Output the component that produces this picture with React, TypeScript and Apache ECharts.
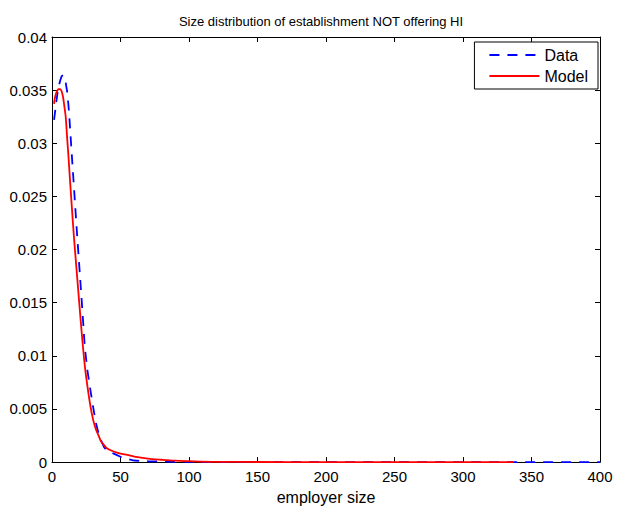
import React, { useEffect, useRef } from "react";
import * as echarts from "echarts";

const titleText = "Size distribution of establishment NOT offering HI";
const xAxisName = "employer size";
const xTickLabels = ["0", "50", "100", "150", "200", "250", "300", "350", "400"];
const yTickLabels = ["0", "0.005", "0.01", "0.015", "0.02", "0.025", "0.03", "0.035", "0.04"];

const dataX = [1.5, 2.5, 3, 4, 5, 6, 7, 8, 9, 10, 11, 12, 13, 14, 16, 18, 20, 22, 24, 26, 28, 30, 32, 34, 36, 38, 40, 45, 50, 55, 60, 70, 80, 90, 100, 120, 150, 200, 250, 300, 350, 400];
const dataY = [0.0322, 0.0332, 0.0338, 0.0347, 0.0354, 0.0359, 0.0363, 0.0364, 0.0362, 0.0357, 0.0349, 0.0336, 0.0318, 0.0298, 0.0259, 0.022, 0.0183, 0.0146, 0.0107, 0.0085, 0.0068, 0.0052, 0.0037, 0.0027, 0.002, 0.0014, 0.0011, 0.0008, 0.0005, 0.0003, 0.00015, 0.00008, 0.00005, 0.00003, 0.00002, 0.00001, 0.000005, 0.000002, 0.000001, 0, 0, 0];

const modelX = [1.5, 2, 3, 4, 5, 6, 7, 8, 9, 10, 11, 12, 13, 14, 16, 18, 20, 22, 24, 26, 28, 30, 32, 34, 36, 38, 40, 45, 50, 55, 60, 70, 80, 90, 100, 120, 150, 200, 250, 300, 337];
const modelY = [0.0337, 0.0342, 0.0347, 0.035, 0.0351, 0.0351, 0.0349, 0.0344, 0.0335, 0.0325, 0.0306, 0.0288, 0.0268, 0.0249, 0.0212, 0.018, 0.0148, 0.0117, 0.009, 0.007, 0.0053, 0.004, 0.0031, 0.0025, 0.0019, 0.0016, 0.0013, 0.001, 0.0008, 0.00068, 0.00052, 0.00033, 0.00022, 0.00013, 0.00009, 0.00003, 0.00001, 0.000003, 0.000001, 0, 0];

const FONT = "Liberation Sans, Arial, Helvetica, sans-serif";

export default function App() {
  const ref = useRef<HTMLDivElement>(null);
  useEffect(() => {
    if (!ref.current) return;
    const chart = echarts.init(ref.current, undefined, { renderer: "svg" });
    const axisCommon = {
      type: "value" as const,
      axisLine: { show: true, onZero: false, lineStyle: { color: "#000", width: 1 } },
      axisTick: { show: true, inside: true, length: 5, lineStyle: { color: "#000" } },
      splitLine: { show: false },
    };
    chart.setOption({
      animation: false,
      backgroundColor: "#fff",
      title: {
        text: titleText,
        left: 316,
        top: 10,
        textAlign: "center",
        textStyle: { fontFamily: FONT, fontSize: 13, fontWeight: "normal", color: "#000" },
      },
      legend: {
        right: 27,
        top: 42,
        orient: "vertical",
        itemWidth: 50,
        itemHeight: 14,
        itemGap: 5,
        padding: [5, 10, 5, 14],
        backgroundColor: "#fff",
        borderColor: "#000",
        borderWidth: 1,
        borderRadius: 0,
        itemStyle: { opacity: 0, borderWidth: 0 },
        textStyle: { fontFamily: FONT, fontSize: 16, color: "#000" },
        data: ["Data", "Model"],
      },
      grid: { left: 52, right: 25, top: 37, bottom: 47, containLabel: false },
      xAxis: [
        {
          ...axisCommon,
          min: 0,
          max: 400,
          interval: 50,
          position: "bottom",
          name: xAxisName,
          nameLocation: "middle",
          nameGap: 22,
          nameTextStyle: { fontFamily: FONT, fontSize: 16, color: "#000" },
          axisLabel: {
            fontFamily: FONT,
            fontSize: 15,
            color: "#000",
            margin: 7,
            formatter: (v: number) => xTickLabels[Math.round(v / 50)] ?? "",
          },
        },
        {
          ...axisCommon,
          min: 0,
          max: 400,
          interval: 50,
          position: "top",
          axisLabel: { show: false },
        },
      ],
      yAxis: [
        {
          ...axisCommon,
          min: 0,
          max: 0.04,
          interval: 0.005,
          position: "left",
          axisLabel: {
            fontFamily: FONT,
            fontSize: 15,
            color: "#000",
            margin: 5,
            formatter: (v: number) => yTickLabels[Math.round(v / 0.005)] ?? "",
          },
        },
        {
          ...axisCommon,
          min: 0,
          max: 0.04,
          interval: 0.005,
          position: "right",
          axisLabel: { show: false },
        },
      ],
      series: [
        {
          name: "Data",
          type: "line",
          xAxisIndex: 0,
          yAxisIndex: 0,
          showSymbol: false,
          symbol: "none",
          smooth: false,
          lineStyle: { color: "#0000ff", width: 1.8, type: [10, 8] },
          itemStyle: { color: "#0000ff" },
          data: dataX.map((x, i) => [x, dataY[i]]),
          z: 2,
        },
        {
          name: "Model",
          type: "line",
          xAxisIndex: 0,
          yAxisIndex: 0,
          showSymbol: false,
          symbol: "none",
          smooth: 0.3,
          lineStyle: { color: "#ff0000", width: 1.8 },
          itemStyle: { color: "#ff0000" },
          data: modelX.map((x, i) => [x, modelY[i]]),
          z: 3,
        },
      ],
    });
    return () => chart.dispose();
  }, []);
  return (
    <div
      ref={ref}
      style={{ position: "absolute", left: 0, top: 0, width: 625, height: 510, background: "#fff" }}
    />
  );
}
